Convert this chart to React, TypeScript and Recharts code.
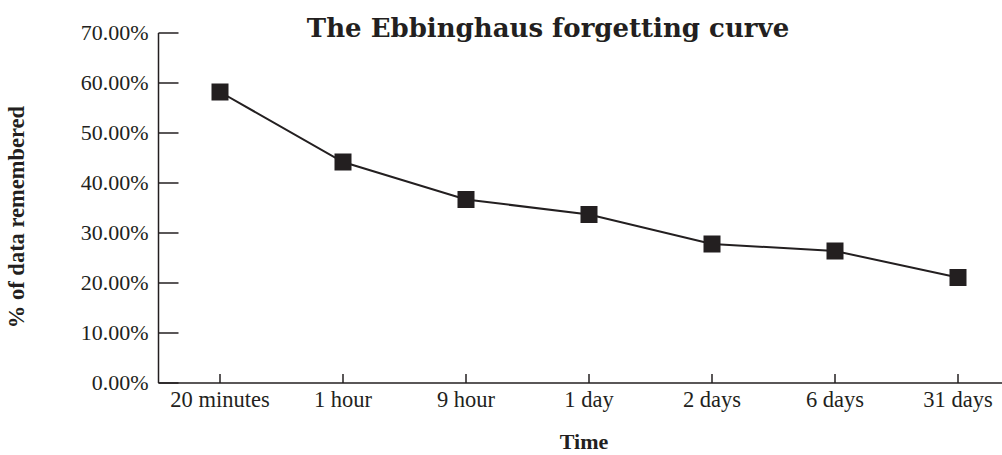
import { LineChart, Line, XAxis, YAxis } from "recharts";

const timeLabels = ["20 minutes", "1 hour", "9 hour", "1 day", "2 days", "6 days", "31 days"];
const remembered = [58.2, 44.2, 36.7, 33.7, 27.8, 26.4, 21.1];
const yTicks = [0, 10, 20, 30, 40, 50, 60, 70];

const data = timeLabels.map((t, i) => ({ time: t, value: remembered[i] }));

const INK = "#231f20";
const SERIF = "'Liberation Serif', 'Times New Roman', serif";

function YTick({ x, y, payload }: any) {
  return (
    <g>
      <line x1={x + 10} x2={x + 30} y1={y} y2={y} stroke={INK} strokeWidth={1.5} />
      <text x={x} y={y} dy={7} textAnchor="end" fontFamily={SERIF} fontSize={22} fill={INK}>
        {`${Number(payload.value).toFixed(2)}%`}
      </text>
    </g>
  );
}

function XTick({ x, y, payload }: any) {
  return (
    <g>
      <line x1={x} x2={x} y1={y - 9} y2={y} stroke={INK} strokeWidth={1.5} />
      <text x={x} y={y + 24} textAnchor="middle" fontFamily={SERIF} fontSize={22.5} fill={INK}>
        {payload.value}
      </text>
    </g>
  );
}

function SquareDot({ cx, cy, index }: any) {
  return <rect key={index} x={cx - 8.5} y={cy - 8.5} width={17} height={17} fill={INK} />;
}

export default function App() {
  return (
    <div style={{ position: "absolute", left: 0, top: 0, width: 1002, height: 455, overflow: "hidden", background: "#fff" }}>
      <LineChart width={1020} height={455} data={data} margin={{ top: 33, right: 0, bottom: 0, left: 0 }}>
        <XAxis
          dataKey="time"
          height={72}
          tickSize={0}
          tickMargin={0}
          tick={<XTick />}
          axisLine={{ stroke: INK, strokeWidth: 1.5 }}
          interval={0}
          padding={{ left: 61.5, right: 62 }}
        />
        <YAxis
          width={158.5}
          domain={[0, 70]}
          ticks={yTicks}
          tickSize={0}
          tickMargin={10}
          tick={<YTick />}
          axisLine={{ stroke: INK, strokeWidth: 1.5 }}
          interval={0}
        />
        <Line
          type="linear"
          dataKey="value"
          stroke={INK}
          strokeWidth={2}
          dot={<SquareDot />}
          activeDot={false}
          isAnimationActive={false}
        />
        <text x={548} y={37} textAnchor="middle" fontFamily="'DejaVu Serif', serif" fontWeight="bold" fontSize={26} fill={INK}>
          The Ebbinghaus forgetting curve
        </text>
        <text
          x={24}
          y={217}
          textAnchor="middle"
          transform="rotate(-90 24 217)"
          fontFamily={SERIF}
          fontWeight="bold"
          fontSize={22.5}
          fill={INK}
        >
          % of data remembered
        </text>
        <text x={584} y={449} textAnchor="middle" fontFamily={SERIF} fontWeight="bold" fontSize={22} fill={INK}>
          Time
        </text>
      </LineChart>
    </div>
  );
}
